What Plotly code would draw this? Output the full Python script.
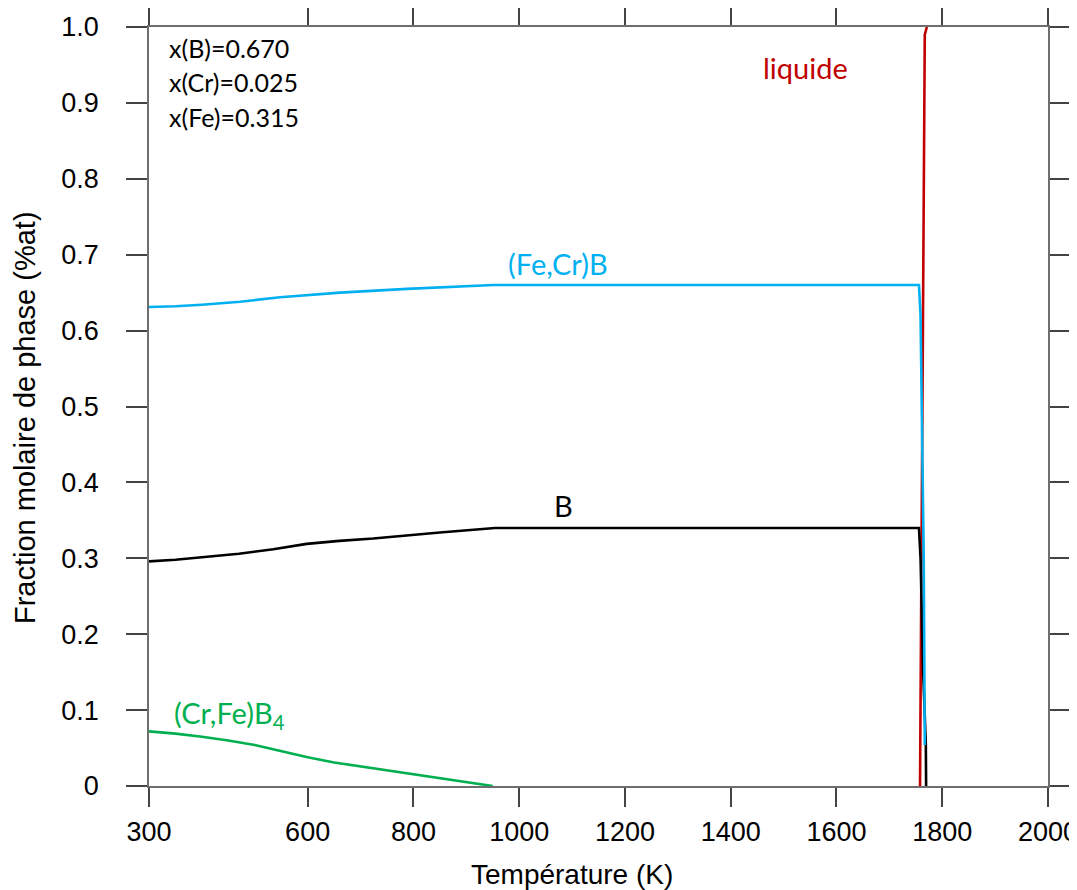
import plotly.graph_objects as go

# --- data ---
T_fecrb = [300, 350, 400, 472, 548, 661, 788, 880, 951, 1300, 1600, 1756, 1759, 1765, 1767]
y_fecrb = [0.631, 0.632, 0.634, 0.638, 0.644, 0.650, 0.655, 0.658, 0.660, 0.660, 0.660, 0.660, 0.620, 0.300, 0.054]

T_b = [300, 350, 410, 470, 535, 598, 660, 724, 850, 954, 1300, 1600, 1756, 1759, 1764, 1769, 1769.5]
y_b = [0.296, 0.298, 0.302, 0.306, 0.312, 0.319, 0.323, 0.326, 0.334, 0.340, 0.340, 0.340, 0.340, 0.300, 0.150, 0.054, 0.0]

T_crfeb4 = [300, 350, 400, 450, 500, 550, 600, 650, 700, 800, 900, 950]
y_crfeb4 = [0.072, 0.069, 0.065, 0.060, 0.054, 0.046, 0.038, 0.031, 0.026, 0.016, 0.006, 0.0]

T_liq = [1758, 1767, 1771]
y_liq = [0.0, 0.99, 1.0]

x_tickvals = [300, 600, 800, 1000, 1200, 1400, 1600, 1800, 2000]
y_tickvals = [0, 0.1, 0.2, 0.3, 0.4, 0.5, 0.6, 0.7, 0.8, 0.9, 1.0]
y_ticktext = ["0", "0.1", "0.2", "0.3", "0.4", "0.5", "0.6", "0.7", "0.8", "0.9", "1.0"]

composition = ["x(B)=0.670", "x(Cr)=0.025", "x(Fe)=0.315"]
composition_y = [0.972, 0.927, 0.881]

BLUE = "#00B0F0"
GREEN = "#00B050"
RED = "#C00000"
BLACK = "#000000"
LABEL_FONT = "Lato, Open Sans, sans-serif"
TICK_FONT = "Liberation Sans, Arial, sans-serif"

fig = go.Figure()
fig.add_trace(go.Scatter(x=T_crfeb4, y=y_crfeb4, mode="lines",
                         line=dict(color=GREEN, width=2.6), showlegend=False))
fig.add_trace(go.Scatter(x=T_liq, y=y_liq, mode="lines",
                         line=dict(color=RED, width=2.6), showlegend=False))
fig.add_trace(go.Scatter(x=T_b, y=y_b, mode="lines",
                         line=dict(color=BLACK, width=2.6), showlegend=False))
fig.add_trace(go.Scatter(x=T_fecrb, y=y_fecrb, mode="lines",
                         line=dict(color=BLUE, width=2.6), showlegend=False))

annotations = []
for txt, yy in zip(composition, composition_y):
    annotations.append(dict(x=334, y=yy, xref="x", yref="y", text=txt, showarrow=False,
                            xanchor="left", yanchor="middle",
                            font=dict(family=LABEL_FONT, size=25, color="#000")))
annotations += [
    dict(x=1073, y=0.689, xref="x", yref="y", text="(Fe,Cr)B", showarrow=False,
         xanchor="center", yanchor="middle", font=dict(family=LABEL_FONT, size=29, color=BLUE)),
    dict(x=1083, y=0.370, xref="x", yref="y", text="B", showarrow=False,
         xanchor="center", yanchor="middle", font=dict(family=LABEL_FONT, size=29, color=BLACK)),
    dict(x=343, y=0.094, xref="x", yref="y", text="(Cr,Fe)B<sub>4</sub>", showarrow=False,
         xanchor="left", yanchor="middle", font=dict(family=LABEL_FONT, size=29, color=GREEN)),
    dict(x=1542, y=0.947, xref="x", yref="y", text="liquide", showarrow=False,
         xanchor="center", yanchor="middle", font=dict(family=LABEL_FONT, size=29, color=RED)),
    dict(x=0.4705, y=-0.116, xref="paper", yref="paper", text="Température (K)", showarrow=False,
         xanchor="center", yanchor="middle", font=dict(family=TICK_FONT, size=28, color="#000")),
    dict(x=-0.138, y=0.486, xref="paper", yref="paper", text="Fraction molaire de phase (%at)",
         showarrow=False, textangle=-90, xanchor="center", yanchor="middle",
         font=dict(family=TICK_FONT, size=29, color="#000")),
]

axis_common = dict(showgrid=False, zeroline=False, showline=True, linecolor="#6e6e6e", linewidth=1.5,
                   mirror="ticks", ticks="outside", tickcolor="#444444", tickwidth=1.5,
                   ticklabeloverflow="allow",
                   tickfont=dict(family=TICK_FONT, size=27, color="#000"))

fig.update_layout(
    width=1077, height=882,
    margin=dict(l=141, r=37, t=19, b=104, autoexpand=False),
    paper_bgcolor="white", plot_bgcolor="white",
    xaxis=dict(range=[300, 2000], tickvals=x_tickvals, ticklen=19, ticklabelstandoff=2, **axis_common),
    yaxis=dict(range=[0, 1.0], tickvals=y_tickvals, ticktext=y_ticktext, ticklen=21,
               ticklabelstandoff=22, **axis_common),
    annotations=annotations,
)

fig.write_html("out.html")
